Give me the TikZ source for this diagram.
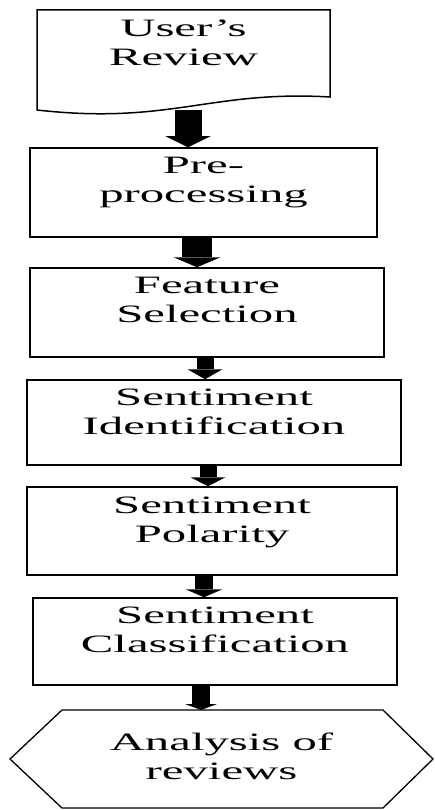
\documentclass[tikz,border=0pt]{standalone}
\usepackage{fontspec}
\usepackage{graphicx}
\setmainfont{Liberation Serif}
\usetikzlibrary{arrows.meta}
\newcommand{\widetext}[1]{\scalebox{1.95}[1]{\begin{tabular}{@{}c@{}}#1\end{tabular}}}
\tikzset{
  stepbox/.style={draw=black, line width=1.5pt, inner sep=0pt},
  shapeframe/.style={inner sep=0pt, outer sep=0pt},
  outline/.style={draw=black, line width=1.5pt, line join=miter},
  lbl/.style={inner sep=0pt, align=center, font=\fontsize{25}{29}\selectfont},
  fatarrow/.style n args={3}{line width=#1pt, -{Triangle[width=#2pt,length=#3pt,line width=0pt]}}
}
\begin{document}
\begin{tikzpicture}[x=1pt,y=1pt]
\useasboundingbox (0,0) rectangle (434,-810);
% document shape
\node[shapeframe, anchor=north west, minimum width=293pt, minimum height=100pt] (doc) at (37,-10) {};
\draw[outline] (doc.south west) -- (doc.north west) -- (doc.north east) -- ([yshift=13pt]doc.south east)
  .. controls (210,-90) and (170,-125) .. (doc.south west) -- cycle;
\node[lbl] (doct) at ([yshift=15pt]doc.center) {\widetext{User’s\\Review}};
% boxes
\node[stepbox, minimum width=347pt, minimum height=89pt] (pre) at (203.5,-192.5) {};
\node[lbl] (pret) at ([yshift=10pt]pre.center) {\widetext{Pre-\\processing}};
\node[stepbox, minimum width=354pt, minimum height=89pt] (feat) at (207,-312.5) {};
\node[lbl] (featt) at ([yshift=10pt]feat.center) {\widetext{Feature\\Selection}};
\node[stepbox, minimum width=374pt, minimum height=85pt] (ident) at (214,-422.5) {};
\node[lbl] (identt) at ([yshift=8.5pt]ident.center) {\widetext{Sentiment\\Identification}};
\node[stepbox, minimum width=370pt, minimum height=88pt] (pol) at (212,-531) {};
\node[lbl] (polt) at ([yshift=9pt]pol.center) {\widetext{Sentiment\\Polarity}};
\node[stepbox, minimum width=364pt, minimum height=87pt] (cls) at (215,-641.5) {};
\node[lbl] (clst) at ([yshift=9pt]cls.center) {\widetext{Sentiment\\Classification}};
% hexagon
\node[shapeframe, minimum width=423pt, minimum height=98pt] (hex) at (221.5,-759) {};
\draw[outline, line width=1.3pt] (hex.west) -- ([xshift=52pt]hex.north west) -- ([xshift=-50pt]hex.north east)
  -- (hex.east) -- ([xshift=-50pt]hex.south east) -- ([xshift=52pt]hex.south west) -- cycle;
\node[lbl] (hext) at (hex.center) {\widetext{Analysis of\\reviews}};
% arrows
\draw[fatarrow={27}{45}{11}] ([xshift=4.5pt]doc.south) -- ([xshift=-15.5pt]pre.north);
\draw[fatarrow={30}{47}{10}] ([xshift=-6.5pt]pre.south) -- ([xshift=-10pt]feat.north);
\draw[fatarrow={17}{35}{10}] ([xshift=-2pt]feat.south) -- ([xshift=-9pt]ident.north);
\draw[fatarrow={17}{35}{9}] ([xshift=-6pt]ident.south) -- ([xshift=-4pt]pol.north);
\draw[fatarrow={18}{37}{8}] ([xshift=-8pt]pol.south) -- ([xshift=-11pt]cls.north);
\draw[fatarrow={18}{32}{6}] ([xshift=-14pt]cls.south) -- ([xshift=-20.5pt]hex.north);
\end{tikzpicture}
\end{document}
